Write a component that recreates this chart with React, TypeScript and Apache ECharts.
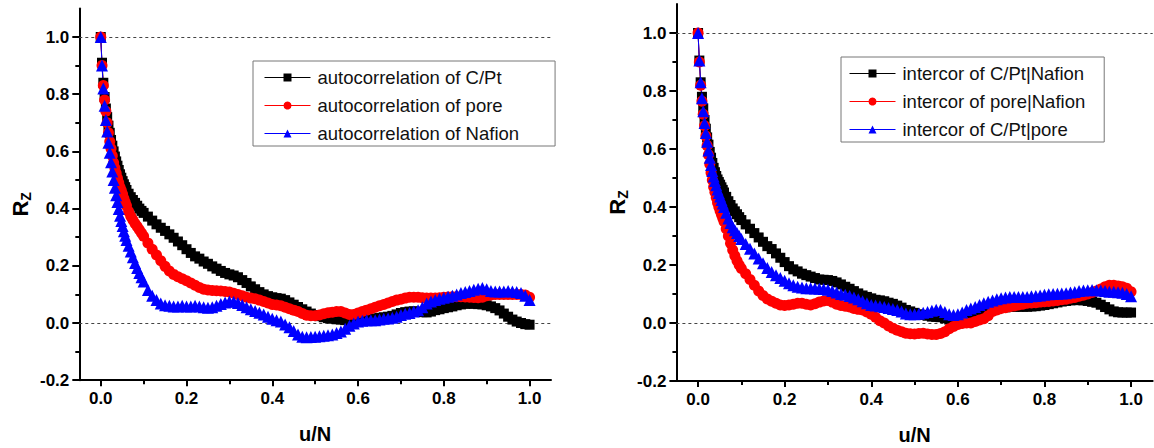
import React, { useEffect, useRef } from 'react';
import * as echarts from 'echarts';

// sampling positions u/N
const xs = [
  0, 0.003, 0.006, 0.009, 0.012, 0.015, 0.018, 0.021, 0.024, 0.027,
  0.03, 0.033, 0.036, 0.039, 0.042, 0.045, 0.048, 0.051, 0.054, 0.057, 0.06,
  0.065, 0.07, 0.075, 0.08, 0.085, 0.09, 0.095, 0.1,
  0.11, 0.12, 0.13, 0.14, 0.15, 0.16, 0.17, 0.18, 0.19, 0.2,
  0.21, 0.22, 0.23, 0.24, 0.25, 0.26, 0.27, 0.28, 0.29, 0.3,
  0.31, 0.32, 0.33, 0.34, 0.35, 0.36, 0.37, 0.38, 0.39, 0.4,
  0.41, 0.42, 0.43, 0.44, 0.45, 0.46, 0.47, 0.48, 0.49, 0.5,
  0.51, 0.52, 0.53, 0.54, 0.55, 0.56, 0.57, 0.58, 0.59, 0.6,
  0.61, 0.62, 0.63, 0.64, 0.65, 0.66, 0.67, 0.68, 0.69, 0.7,
  0.71, 0.72, 0.73, 0.74, 0.75, 0.76, 0.77, 0.78, 0.79, 0.8,
  0.81, 0.82, 0.83, 0.84, 0.85, 0.86, 0.87, 0.88, 0.89, 0.9,
  0.91, 0.92, 0.93, 0.94, 0.95, 0.96, 0.97, 0.98, 0.99, 1.0,
];

// left panel: autocorrelation
const autoCPt = [
  1.0, 0.91, 0.84, 0.79, 0.75, 0.72, 0.69, 0.665, 0.64, 0.62,
  0.6, 0.582, 0.565, 0.55, 0.535, 0.52, 0.508, 0.496, 0.485, 0.475, 0.465,
  0.452, 0.44, 0.43, 0.42, 0.41, 0.4, 0.392, 0.385,
  0.372, 0.358, 0.345, 0.333, 0.322, 0.31, 0.298, 0.285, 0.272, 0.258,
  0.245, 0.233, 0.225, 0.215, 0.207, 0.198, 0.19, 0.182, 0.175, 0.17,
  0.166, 0.16, 0.15, 0.14, 0.128, 0.118, 0.108, 0.1, 0.094, 0.09,
  0.087, 0.085, 0.08, 0.072, 0.064, 0.056, 0.048, 0.04, 0.033, 0.028,
  0.024, 0.02, 0.017, 0.015, 0.013, 0.012, 0.01, 0.006, 0.005, 0.007,
  0.01, 0.012, 0.014, 0.016, 0.018, 0.02, 0.022, 0.025, 0.03, 0.035,
  0.038, 0.04, 0.041, 0.04, 0.038, 0.037, 0.04, 0.045, 0.048, 0.052,
  0.055, 0.058, 0.062, 0.065, 0.067, 0.068, 0.067, 0.066, 0.065, 0.062,
  0.058, 0.052, 0.044, 0.033, 0.022, 0.012, 0.005, 0.0, -0.004, -0.006,
];
const autoPore = [
  1.0, 0.9, 0.83, 0.78, 0.74, 0.7, 0.665, 0.635, 0.61, 0.585,
  0.56, 0.542, 0.524, 0.506, 0.49, 0.475, 0.463, 0.45, 0.435, 0.422, 0.41,
  0.39, 0.373, 0.36, 0.348, 0.337, 0.326, 0.315, 0.303,
  0.28, 0.258, 0.238, 0.218, 0.198, 0.182, 0.17, 0.162, 0.155, 0.148,
  0.14, 0.132, 0.124, 0.118, 0.115, 0.114, 0.113, 0.112, 0.11, 0.108,
  0.104, 0.1, 0.095, 0.09, 0.087, 0.085, 0.08, 0.075, 0.07, 0.065,
  0.063, 0.06, 0.055, 0.05, 0.045, 0.04, 0.033, 0.027, 0.025, 0.025,
  0.028, 0.032, 0.036, 0.038, 0.04, 0.04, 0.035, 0.03, 0.03, 0.035,
  0.04, 0.045, 0.05, 0.055, 0.06, 0.065, 0.07, 0.075, 0.08, 0.083,
  0.087, 0.09, 0.09, 0.09, 0.088, 0.087, 0.087, 0.087, 0.088, 0.09,
  0.091, 0.092, 0.092, 0.092, 0.091, 0.09, 0.089, 0.088, 0.09, 0.095,
  0.098, 0.1, 0.1, 0.1, 0.1, 0.1, 0.1, 0.1, 0.098, 0.09,
];
const autoNafion = [
  1.0, 0.9, 0.82, 0.76, 0.71, 0.67, 0.63, 0.595, 0.562, 0.53,
  0.5, 0.473, 0.447, 0.423, 0.399, 0.375, 0.357, 0.339, 0.321, 0.305, 0.29,
  0.27, 0.25, 0.23, 0.21, 0.192, 0.175, 0.16, 0.145,
  0.115, 0.095, 0.08, 0.068, 0.062, 0.06, 0.058, 0.058, 0.06, 0.058,
  0.058, 0.06, 0.058, 0.055, 0.053, 0.055, 0.06, 0.066, 0.072, 0.075,
  0.074, 0.07, 0.063, 0.055, 0.048, 0.042, 0.036, 0.03, 0.022, 0.015,
  0.01, 0.005, -0.005, -0.015, -0.028, -0.04, -0.048, -0.05, -0.049, -0.048,
  -0.046, -0.045, -0.043, -0.04, -0.035, -0.03, -0.02, -0.01, -0.002, 0.005,
  0.008, 0.01, 0.01, 0.01, 0.012, 0.015, 0.016, 0.018, 0.022, 0.028,
  0.032, 0.035, 0.04, 0.045, 0.055, 0.068, 0.075, 0.08, 0.085, 0.088,
  0.092, 0.095, 0.1, 0.105, 0.108, 0.112, 0.116, 0.12, 0.122, 0.118,
  0.112, 0.11, 0.11, 0.11, 0.112, 0.11, 0.108, 0.105, 0.095, 0.08,
];

// right panel: intercorrelation
const interCPtNafion = [
  1.0, 0.905, 0.83, 0.78, 0.74, 0.7, 0.67, 0.64, 0.615, 0.59,
  0.57, 0.552, 0.535, 0.52, 0.507, 0.495, 0.486, 0.477, 0.468, 0.459, 0.45,
  0.435, 0.42, 0.407, 0.395, 0.385, 0.375, 0.365, 0.355,
  0.34, 0.325, 0.31, 0.295, 0.28, 0.265, 0.255, 0.24, 0.225, 0.21,
  0.196, 0.185, 0.178, 0.17, 0.165, 0.16, 0.155, 0.15, 0.149, 0.148,
  0.145, 0.14, 0.133, 0.125, 0.118, 0.11, 0.102, 0.095, 0.09, 0.085,
  0.08, 0.078, 0.075, 0.07, 0.066, 0.06, 0.053, 0.045, 0.04, 0.035,
  0.03, 0.028, 0.025, 0.022, 0.021, 0.02, 0.017, 0.012, 0.01, 0.012,
  0.015, 0.018, 0.021, 0.025, 0.03, 0.035, 0.04, 0.045, 0.048, 0.052,
  0.054, 0.056, 0.056, 0.056, 0.056, 0.056, 0.057, 0.058, 0.06, 0.062,
  0.065, 0.068, 0.071, 0.074, 0.076, 0.078, 0.079, 0.079, 0.078, 0.076,
  0.073, 0.07, 0.063, 0.055, 0.047, 0.04, 0.037, 0.036, 0.036, 0.036,
];
const interPoreNafion = [
  1.0, 0.9, 0.82, 0.765, 0.72, 0.68, 0.645, 0.612, 0.58, 0.548,
  0.518, 0.493, 0.469, 0.451, 0.433, 0.415, 0.4, 0.386, 0.374, 0.362, 0.35,
  0.325, 0.3, 0.275, 0.252, 0.232, 0.215, 0.2, 0.188,
  0.17, 0.15, 0.13, 0.11, 0.095, 0.083, 0.075, 0.068, 0.062, 0.06,
  0.062, 0.065, 0.068, 0.068, 0.065, 0.062, 0.066, 0.072, 0.076, 0.078,
  0.072, 0.065, 0.06, 0.058, 0.055, 0.05, 0.047, 0.045, 0.038, 0.03,
  0.02, 0.008, 0.0, -0.01, -0.018, -0.025, -0.03, -0.035, -0.037, -0.038,
  -0.036, -0.035, -0.038, -0.04, -0.04, -0.036, -0.03, -0.02, -0.012, -0.005,
  -0.002, 0.0, 0.0, 0.005, 0.01, 0.015, 0.025, 0.04, 0.045, 0.05,
  0.053, 0.056, 0.059, 0.062, 0.065, 0.068, 0.069, 0.07, 0.072, 0.073,
  0.074, 0.076, 0.078, 0.08, 0.082, 0.085, 0.088, 0.092, 0.096, 0.1,
  0.105, 0.11, 0.117, 0.125, 0.13, 0.13, 0.128, 0.125, 0.12, 0.108,
];
const interCPtPore = [
  1.0, 0.905, 0.83, 0.775, 0.73, 0.69, 0.655, 0.625, 0.595, 0.57,
  0.545, 0.524, 0.505, 0.49, 0.475, 0.46, 0.448, 0.436, 0.424, 0.412, 0.4,
  0.38, 0.36, 0.345, 0.33, 0.32, 0.31, 0.3, 0.29,
  0.272, 0.256, 0.24, 0.222, 0.206, 0.19, 0.176, 0.165, 0.155, 0.146,
  0.137, 0.13, 0.125, 0.122, 0.12, 0.12, 0.119, 0.118, 0.117, 0.115,
  0.11, 0.105, 0.1, 0.097, 0.093, 0.088, 0.082, 0.075, 0.068, 0.062,
  0.06, 0.058, 0.055, 0.052, 0.048, 0.045, 0.04, 0.033, 0.03, 0.03,
  0.032, 0.035, 0.038, 0.042, 0.046, 0.045, 0.038, 0.03, 0.028, 0.03,
  0.036, 0.045, 0.05, 0.055, 0.062, 0.068, 0.073, 0.078, 0.082, 0.085,
  0.088, 0.09, 0.09, 0.09, 0.09, 0.09, 0.092, 0.093, 0.095, 0.097,
  0.099, 0.1, 0.101, 0.102, 0.103, 0.105, 0.107, 0.11, 0.112, 0.113,
  0.114, 0.113, 0.112, 0.11, 0.108, 0.108, 0.106, 0.104, 0.1, 0.092,
];

const leftNames = ['autocorrelation of C/Pt', 'autocorrelation of pore', 'autocorrelation of Nafion'];
const rightNames = ['intercor of C/Pt|Nafion', 'intercor of pore|Nafion', 'intercor of C/Pt|pore'];

const majorX = [0, 0.2, 0.4, 0.6, 0.8, 1.0];
const minorX = [0.1, 0.3, 0.5, 0.7, 0.9];
const majorY = [-0.2, 0, 0.2, 0.4, 0.6, 0.8, 1.0];
const minorY = [-0.1, 0.1, 0.3, 0.5, 0.7, 0.9];
const refLines = [1.0, 0.0];

const FONT = '"Liberation Sans", Arial, Helvetica, sans-serif';
const BLACK = '#000000';
const RED = '#ff0000';
const BLUE = '#0000ff';
const AXIS_W = 2;

const pairs = (ys: number[]) => xs.map((x, i) => [x, ys[i]]).filter((p) => p[1] !== undefined);

function xAxesFor(gridIndex: number) {
  const base = {
    type: 'value',
    gridIndex,
    min: -0.05,
    max: 1.05,
    position: 'bottom',
    splitLine: { show: false },
  };
  return [
    {
      ...base,
      axisLine: { show: true, onZero: false, lineStyle: { color: BLACK, width: AXIS_W } },
      axisTick: { show: true, inside: false, length: 6, customValues: majorX, lineStyle: { color: BLACK, width: AXIS_W } },
      axisLabel: {
        show: true,
        customValues: majorX,
        formatter: (v: number) => v.toFixed(1),
        margin: 10,
        fontSize: 17,
        fontWeight: 'bold',
        color: BLACK,
        fontFamily: FONT,
      },
      name: 'u/N',
      nameLocation: 'middle',
      nameGap: 44,
      nameMoveOverlap: false,
      nameTextStyle: { fontSize: 20, fontWeight: 'bold', color: BLACK, fontFamily: FONT },
    },
    {
      ...base,
      axisLine: { show: false, onZero: false },
      axisTick: { show: true, inside: false, length: 4, customValues: minorX, lineStyle: { color: BLACK, width: AXIS_W } },
      axisLabel: { show: false },
    },
  ];
}

function yAxesFor(gridIndex: number) {
  const base = {
    type: 'value',
    gridIndex,
    min: -0.2,
    max: 1.1,
    position: 'left',
    splitLine: { show: false },
  };
  return [
    {
      ...base,
      axisLine: { show: true, onZero: false, lineStyle: { color: BLACK, width: AXIS_W } },
      axisTick: { show: true, inside: false, length: 7, customValues: majorY, lineStyle: { color: BLACK, width: AXIS_W } },
      axisLabel: {
        show: true,
        customValues: majorY,
        formatter: (v: number) => v.toFixed(1),
        margin: 10,
        fontSize: 17,
        fontWeight: 'bold',
        color: BLACK,
        fontFamily: FONT,
      },
      name: '{r|R}{z|Z}',
      nameLocation: 'middle',
      nameGap: 46,
      nameRotate: 90,
      nameMoveOverlap: false,
      nameTextStyle: {
        padding: [0, 20, 0, 0],
        rich: {
          r: { fontSize: 22, fontWeight: 'bold', color: BLACK, fontFamily: FONT, lineHeight: 26, verticalAlign: 'middle' },
          z: { fontSize: 14, fontWeight: 'bold', color: BLACK, fontFamily: FONT, lineHeight: 14, verticalAlign: 'bottom' },
        },
      },
    },
    {
      ...base,
      axisLine: { show: false, onZero: false },
      axisTick: { show: true, inside: false, length: 4, customValues: minorY, lineStyle: { color: BLACK, width: AXIS_W } },
      axisLabel: { show: false },
    },
  ];
}

const SYMBOL_SIZE: Record<string, number> = { rect: 10, circle: 11, triangle: 12 };

function lineSeries(name: string, ys: number[], color: string, symbol: string, axisIndex: number, withRef: boolean) {
  const s: any = {
    type: 'line',
    name,
    data: pairs(ys),
    xAxisIndex: axisIndex,
    yAxisIndex: axisIndex,
    symbol,
    symbolSize: SYMBOL_SIZE[symbol],
    showSymbol: true,
    showAllSymbol: true,
    lineStyle: { color, width: 1 },
    itemStyle: { color },
    emphasis: { disabled: true },
    silent: true,
  };
  if (withRef) {
    s.markLine = {
      silent: true,
      symbol: ['none', 'none'],
      label: { show: false },
      lineStyle: { color: '#444', width: 1, type: [3, 3] },
      data: refLines.map((v) => ({ yAxis: v })),
      z: 1,
    };
  }
  return s;
}

function legendFor(names: string[], left: number, top: number, padding: number[]) {
  return {
    data: names,
    left,
    top,
    orient: 'vertical',
    itemWidth: 46,
    itemHeight: 10,
    itemGap: 9,
    padding,
    borderColor: '#777',
    borderWidth: 1,
    backgroundColor: '#ffffff',
    selectedMode: false,
    lineStyle: { width: 1 },
    textStyle: { fontSize: 18.5, color: '#111', fontFamily: FONT, padding: [0, 0, 0, 2] },
  };
}

export default function App() {
  const ref = useRef<HTMLDivElement>(null);
  useEffect(() => {
    document.body.style.margin = '0';
    document.body.style.padding = '0';
    document.documentElement.style.overflow = 'hidden';
    if (!ref.current) return;
    const chart = echarts.init(ref.current, undefined, { renderer: 'svg' });
    const option: any = {
      animation: false,
      backgroundColor: '#ffffff',
      grid: [
        { left: 79.3, top: 8.4, width: 471.7, height: 371.8, outerBoundsMode: 'none', containLabel: false },
        { left: 676.4, top: 4, width: 476.3, height: 377, outerBoundsMode: 'none', containLabel: false },
      ],
      xAxis: [...xAxesFor(0), ...xAxesFor(1)],
      yAxis: [...yAxesFor(0), ...yAxesFor(1)],
      legend: [
        legendFor(leftNames, 253, 61, [7, 36, 3, 11]),
        legendFor(rightNames, 841, 57, [7, 19, 3, 8]),
      ],
      tooltip: { show: false },
      series: [
        lineSeries(leftNames[0], autoCPt, BLACK, 'rect', 0, true),
        lineSeries(leftNames[1], autoPore, RED, 'circle', 0, false),
        lineSeries(leftNames[2], autoNafion, BLUE, 'triangle', 0, false),
        lineSeries(rightNames[0], interCPtNafion, BLACK, 'rect', 2, true),
        lineSeries(rightNames[1], interPoreNafion, RED, 'circle', 2, false),
        lineSeries(rightNames[2], interCPtPore, BLUE, 'triangle', 2, false),
      ],
    };
    chart.setOption(option);
    return () => chart.dispose();
  }, []);
  return <div ref={ref} style={{ position: 'relative', width: 1154, height: 448, background: '#fff' }} />;
}
